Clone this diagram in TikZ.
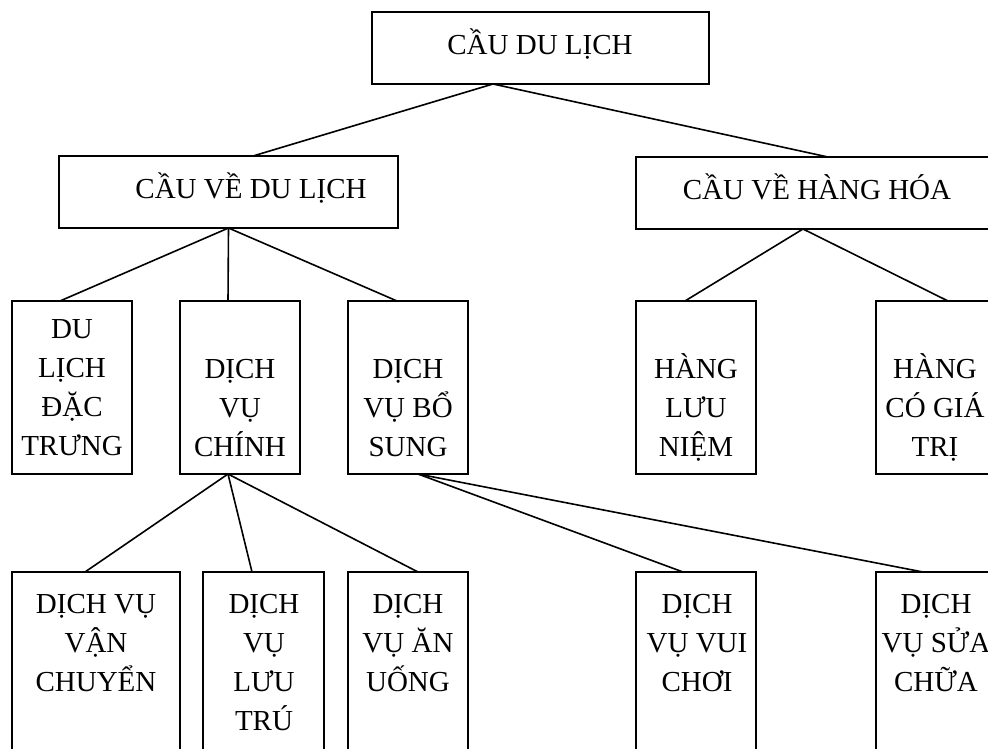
\documentclass[tikz,border=0pt]{standalone}
\usepackage{fontspec}
\setmainfont{Liberation Serif}
\newcommand{\mylines}[1]{\begin{tabular}[t]{@{}c@{}}#1\end{tabular}}
\begin{document}
\begin{tikzpicture}[x=1pt,y=-1pt,
  boxnode/.style={draw, line width=1.9pt, rectangle, inner sep=0pt, outer sep=0pt},
  txt/.style={anchor=base, inner sep=0pt, font=\fontsize{29}{39}\selectfont},
  conn/.style={line width=1.6pt}]
\useasboundingbox (0,0) rectangle (988,749);
\clip (0,0) rectangle (988,749);
\fill[white] (0,0) rectangle (988,749);
% boxes
\node[boxnode, minimum width=337pt, minimum height=72pt] (top) at (540.5,48) {};
\node[boxnode, minimum width=339pt, minimum height=72pt] (cvdl) at (228.5,192) {};
\node[boxnode, minimum width=362pt, minimum height=72pt] (cvhh) at (817,193) {};
\node[boxnode, minimum width=120pt, minimum height=173pt] (r3a) at (72,387.5) {};
\node[boxnode, minimum width=120pt, minimum height=173pt] (r3b) at (240,387.5) {};
\node[boxnode, minimum width=120pt, minimum height=173pt] (r3c) at (408,387.5) {};
\node[boxnode, minimum width=120pt, minimum height=173pt] (r3d) at (696,387.5) {};
\node[boxnode, minimum width=120pt, minimum height=173pt] (r3e) at (936,387.5) {};
\node[boxnode, minimum width=168pt, minimum height=200pt] (r4a) at (96,672) {};
\node[boxnode, minimum width=121pt, minimum height=200pt] (r4b) at (263.5,672) {};
\node[boxnode, minimum width=120pt, minimum height=200pt] (r4c) at (408,672) {};
\node[boxnode, minimum width=120pt, minimum height=200pt] (r4d) at (696,672) {};
\node[boxnode, minimum width=120pt, minimum height=200pt] (r4e) at (936,672) {};
% texts
\node[txt] (ttop) at (540,55) {CẦU DU LỊCH};
\node[txt] (tcvdl) at (251,198) {CẦU VỀ DU LỊCH};
\node[txt] (tcvhh) at (817,199) {CẦU VỀ HÀNG HÓA};
\node[txt] (tr3a) at (72,338) {\mylines{DU\\LỊCH\\ĐẶC\\TRƯNG}};
\node[txt] (tr3b) at (240,378) {\mylines{DỊCH\\VỤ\\CHÍNH}};
\node[txt] (tr3c) at (408,378) {\mylines{DỊCH\\VỤ BỔ\\SUNG}};
\node[txt] (tr3d) at (696,378) {\mylines{HÀNG\\LƯU\\NIỆM}};
\node[txt] (tr3e) at (935,378) {\mylines{HÀNG\\CÓ GIÁ\\TRỊ}};
\node[txt] (tr4a) at (96,613) {\mylines{DỊCH VỤ\\VẬN\\CHUYỂN}};
\node[txt] (tr4b) at (264,613) {\mylines{DỊCH\\VỤ\\LƯU\\TRÚ}};
\node[txt] (tr4c) at (408,613) {\mylines{DỊCH\\VỤ ĂN\\UỐNG}};
\node[txt] (tr4d) at (697,613) {\mylines{DỊCH\\VỤ VUI\\CHƠI}};
\node[txt] (tr4e) at (936,613) {\mylines{DỊCH\\VỤ SỬA\\CHỮA}};
% connectors
\draw[conn] ([xshift=-47.5pt]top.south) -- ([xshift=24.5pt]cvdl.north);
\draw[conn] ([xshift=-47.5pt]top.south) -- ([xshift=11pt]cvhh.north);
\draw[conn] (cvdl.south) -- ([xshift=-12pt]r3a.north);
\draw[conn] (cvdl.south) -- ([xshift=-12pt]r3b.north);
\draw[conn] (cvdl.south) -- ([xshift=-11pt]r3c.north);
\draw[conn] ([xshift=-14pt]cvhh.south) -- ([xshift=-11pt]r3d.north);
\draw[conn] ([xshift=-14pt]cvhh.south) -- ([xshift=12pt]r3e.north);
\draw[conn] ([xshift=-12pt]r3b.south) -- ([xshift=-11pt]r4a.north);
\draw[conn] ([xshift=-12pt]r3b.south) -- ([xshift=-11.5pt]r4b.north);
\draw[conn] ([xshift=-12pt]r3b.south) -- ([xshift=10pt]r4c.north);
\draw[conn] ([xshift=10pt]r3c.south) -- ([xshift=-13pt]r4d.north);
\draw[conn] ([xshift=10pt]r3c.south) -- ([xshift=-13pt]r4e.north);
\end{tikzpicture}
\end{document}
